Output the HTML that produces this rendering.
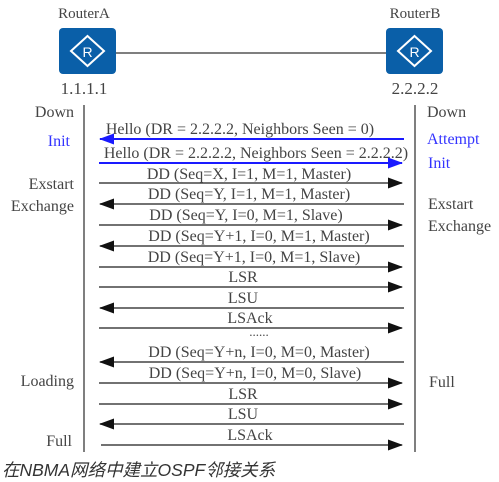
<!DOCTYPE html>
<html><head><meta charset="utf-8"><style>
html,body{margin:0;padding:0;background:#fff;}
svg{display:block;}
</style></head><body>
<svg width="499" height="482" viewBox="0 0 499 482" xmlns="http://www.w3.org/2000/svg">
<defs>
<marker id="ah" markerWidth="15" markerHeight="11" refX="14" refY="5.5" orient="auto" markerUnits="userSpaceOnUse"><path d="M0,0 L15,5.5 L0,11 Z" fill="#111"/></marker>
<marker id="ab" markerWidth="15" markerHeight="11" refX="14" refY="5.5" orient="auto" markerUnits="userSpaceOnUse"><path d="M0,0 L15,5.5 L0,11 Z" fill="#1a1aff"/></marker>
</defs>
<line x1="116" y1="53" x2="387" y2="53" stroke="#555" stroke-width="1.5"/>
<g>
<rect x="59" y="28" width="57" height="46" rx="4" fill="#0a5fa8"/>
<path d="M87.5,36 L104,51 L87.5,66 L71,51 Z" fill="none" stroke="#fff" stroke-width="2"/>
<text x="87.5" y="57" font-family="Liberation Sans,sans-serif" font-size="14" fill="#fff" text-anchor="middle">R</text>
<rect x="386" y="28" width="57" height="46" rx="4" fill="#0a5fa8"/>
<path d="M414.5,36 L431,51 L414.5,66 L398,51 Z" fill="none" stroke="#fff" stroke-width="2"/>
<text x="414.5" y="57" font-family="Liberation Sans,sans-serif" font-size="14" fill="#fff" text-anchor="middle">R</text>
</g>
<g font-family="Liberation Serif, serif" fill="#444">
<g font-size="15" text-anchor="middle">
<text x="84" y="18">RouterA</text>
<text x="415" y="18">RouterB</text>
<text x="84" y="94" font-size="17">1.1.1.1</text>
<text x="415" y="94" font-size="17">2.2.2.2</text>
</g>
<g font-size="16" text-anchor="end">
<text x="74" y="117">Down</text>
<text x="70" y="146" fill="#3333ff">Init</text>
<text x="74" y="189">Exstart</text>
<text x="74" y="211">Exchange</text>
<text x="74" y="386">Loading</text>
<text x="72" y="446">Full</text>
</g>
<g font-size="16">
<text x="427" y="117">Down</text>
<text x="427" y="144" fill="#3333ff">Attempt</text>
<text x="428" y="168" fill="#3333ff">Init</text>
<text x="428" y="209">Exstart</text>
<text x="428" y="231">Exchange</text>
<text x="429" y="387">Full</text>
</g>
<g font-size="16" text-anchor="middle">
<text x="240" y="134">Hello (DR = 2.2.2.2, Neighbors Seen = 0)</text>
<text x="256" y="158">Hello (DR = 2.2.2.2, Neighbors Seen = 2.2.2.2)</text>
<text x="249" y="179">DD (Seq=X, I=1, M=1, Master)</text>
<text x="249" y="199">DD (Seq=Y, I=1, M=1, Master)</text>
<text x="246" y="220">DD (Seq=Y, I=0, M=1, Slave)</text>
<text x="259" y="241">DD (Seq=Y+1, I=0, M=1, Master)</text>
<text x="254" y="262">DD (Seq=Y+1, I=0, M=1, Slave)</text>
<text x="243" y="282">LSR</text>
<text x="243" y="303">LSU</text>
<text x="250" y="323">LSAck</text>
<text x="259" y="336" font-size="13">......</text>
<text x="259" y="357">DD (Seq=Y+n, I=0, M=0, Master)</text>
<text x="255" y="378">DD (Seq=Y+n, I=0, M=0, Slave)</text>
<text x="243" y="399">LSR</text>
<text x="243" y="419">LSU</text>
<text x="250" y="440">LSAck</text>
</g>
</g>
<line x1="84" y1="105" x2="84" y2="452" stroke="#555" stroke-width="1.5"/>
<line x1="415" y1="105" x2="415" y2="452" stroke="#555" stroke-width="1.5"/>
<g stroke-width="2">
<line x1="404" y1="139" x2="100" y2="139" stroke="#1a1aff" marker-end="url(#ab)"/>
<line x1="99" y1="163" x2="402" y2="163" stroke="#1a1aff" marker-end="url(#ab)"/>
</g>
<g stroke="#444" stroke-width="1.5">
<line x1="99" y1="183" x2="402" y2="183" marker-end="url(#ah)"/>
<line x1="404" y1="204" x2="100" y2="204" marker-end="url(#ah)"/>
<line x1="99" y1="225" x2="402" y2="225" marker-end="url(#ah)"/>
<line x1="404" y1="246" x2="100" y2="246" marker-end="url(#ah)"/>
<line x1="99" y1="267" x2="402" y2="267" marker-end="url(#ah)"/>
<line x1="99" y1="287" x2="402" y2="287" marker-end="url(#ah)"/>
<line x1="404" y1="308" x2="100" y2="308" marker-end="url(#ah)"/>
<line x1="99" y1="328" x2="402" y2="328" marker-end="url(#ah)"/>
<line x1="404" y1="362" x2="100" y2="362" marker-end="url(#ah)"/>
<line x1="99" y1="383" x2="402" y2="383" marker-end="url(#ah)"/>
<line x1="99" y1="404" x2="402" y2="404" marker-end="url(#ah)"/>
<line x1="404" y1="424" x2="100" y2="424" marker-end="url(#ah)"/>
<line x1="101" y1="445" x2="402" y2="445" marker-end="url(#ah)"/>
</g>
<text x="2" y="476" font-family="Liberation Sans, Noto Sans CJK SC, sans-serif" font-size="17.5" font-style="italic" fill="#333">在NBMA网络中建立OSPF邻接关系</text>
</svg>
</body></html>
